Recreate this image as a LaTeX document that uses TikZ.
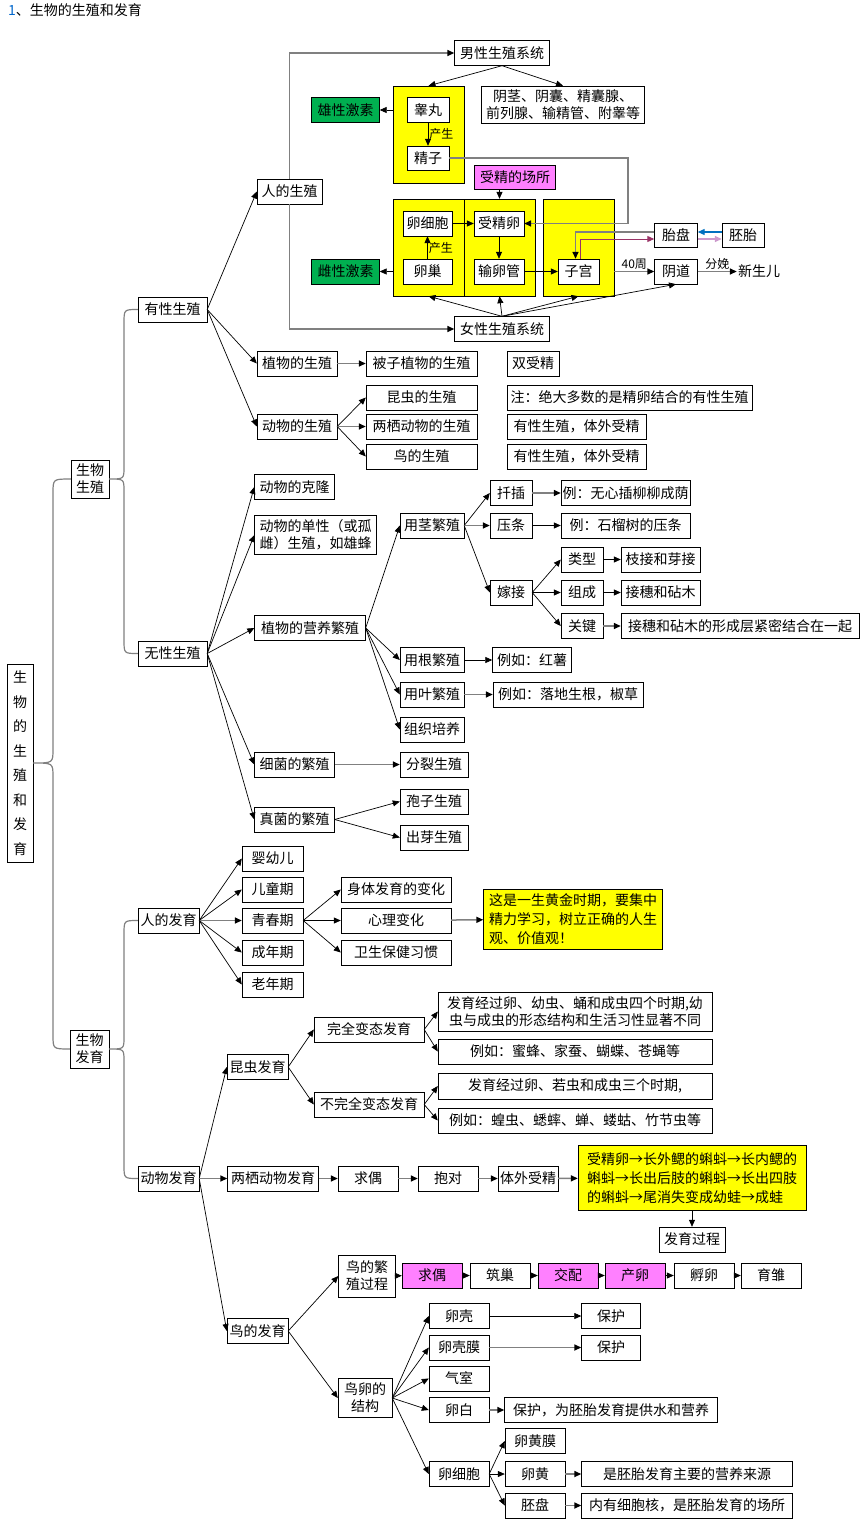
\documentclass[tikz,border=0pt]{standalone}
\usepackage{fontspec}
\setmainfont{Noto Sans CJK SC}
\usetikzlibrary{arrows.meta}
\definecolor{hiyellow}{RGB}{255,255,0}
\definecolor{hormone}{RGB}{0,176,80}
\definecolor{hipink}{RGB}{255,128,255}
\definecolor{linkpurple}{RGB}{153,51,102}
\definecolor{linkblue}{RGB}{0,112,192}
\definecolor{linkpink}{RGB}{204,153,204}
\definecolor{titleblue}{RGB}{0,102,204}

\begin{document}
\begin{tikzpicture}[x=1pt, y=-1pt, font=\fontsize{14}{17}\selectfont]
    \tikzstyle{box} = [draw, fill=white, align=center, inner sep=1pt, minimum height=25]
    \tikzstyle{ybox} = [box, fill=hiyellow]
    \tikzstyle{gbox} = [box, fill=hormone]
    \tikzstyle{pbox} = [box, fill=hipink]
    \tikzstyle{lab} = [font=\fontsize{12}{14}\selectfont, inner sep=1pt]
    \tikzstyle{arrow} = [->, >={Triangle[length=7pt,width=6pt]}, line width=0.7pt]
    \tikzstyle{garrow} = [->, >={Triangle[length=7pt,width=6pt,color=black]}, draw=gray, line width=1.5pt]
    \tikzstyle{parrow} = [arrow, draw=linkpurple, line width=1pt]
    \tikzstyle{barrow} = [arrow, draw=linkblue, line width=1.2pt]
    \tikzstyle{larrow} = [arrow, draw=linkpink, line width=1.5pt]
    \tikzstyle{brace} = [draw=gray, line width=1.2pt]
    \useasboundingbox (0,0) rectangle (865,1523);

    % Title
    \node [anchor=west, inner sep=0pt] (Title) at (8,10) {\textcolor{titleblue}{1}、生物的生殖和发育};

    % Root and the two big branches
    \node [box, minimum width=26, minimum height=198, font=\fontsize{14}{24.5}\selectfont] (Root) at (20,763) {生\\物\\的\\生\\殖\\和\\发\\育};
    \node [box, minimum width=38, minimum height=38] (BioRepro) at (90,479) {生物\\生殖};
    \node [box, minimum width=39, minimum height=38] (BioDev) at (89.5,1049) {生物\\发育};
    \draw [brace] (BioRepro.west) .. controls (53,479) .. (53,493) -- (53,749) .. controls (53,763) .. (Root.east)
                  .. controls (53,763) .. (53,777) -- (53,1035) .. controls (53,1049) .. (BioDev.west);

    \node [box, minimum width=69] (SexRepro) at (172.5,309.5) {有性生殖};
    \node [box, minimum width=69] (AsexRepro) at (172.5,653.5) {无性生殖};
    \draw [brace] (SexRepro.west) .. controls (124,309.5) .. (124,323) -- (124,467) .. controls (124,479) .. (BioRepro.east)
                  .. controls (124,479) .. (124,491) -- (124,640) .. controls (124,653.5) .. (AsexRepro.west);

    \node [box, minimum width=61] (HumanDev) at (168.5,920.5) {人的发育};
    \node [box, minimum width=61] (AnimalDev) at (168.5,1178.5) {动物发育};
    \draw [brace] (HumanDev.west) .. controls (124,920.5) .. (124,934) -- (124,1037) .. controls (124,1049) .. (BioDev.east)
                  .. controls (124,1049) .. (124,1061) -- (124,1165) .. controls (124,1178.5) .. (AnimalDev.west);

    % Human reproduction: yellow organ groups
    \node [ybox, minimum width=71, minimum height=97] (MaleGland) at (428.5,134.5) {};
    \node [ybox, minimum width=71, minimum height=97] (FemYA) at (428.5,247.5) {};
    \node [ybox, minimum width=71, minimum height=97] (FemYB) at (499.5,247.5) {};
    \node [ybox, minimum width=71, minimum height=97] (FemYR) at (578.5,247.5) {};

    \node [box, minimum width=65] (HumanRepro) at (289.5,191.5) {人的生殖};
    \node [box, minimum width=95] (MaleSys) at (502,53) {男性生殖系统};
    \node [box, minimum width=95] (FemaleSys) at (502,329) {女性生殖系统};
    \node [gbox, minimum width=68] (Androgen) at (345.5,110) {雄性激素};
    \node [gbox, minimum width=68] (Estrogen) at (345.5,271.5) {雌性激素};
    \node [box, minimum width=42] (Testis) at (428,110) {睾丸};
    \node [box, minimum width=42, minimum height=24] (Sperm) at (428,158) {精子};
    \node [box, minimum width=163, minimum height=37] (Organs) at (563,104.5) {阴茎、阴囊、精囊腺、\\前列腺、输精管、附睾等};
    \node [pbox, minimum width=81, minimum height=24] (FertSite) at (515,177) {受精的场所};
    \node [box, minimum width=49] (EggCell) at (427.5,223.5) {卵细胞};
    \node [box, minimum width=50] (Zygote) at (499,223.5) {受精卵};
    \node [box, minimum width=49] (Ovary) at (427.5,271.5) {卵巢};
    \node [box, minimum width=50] (Oviduct) at (499,271.5) {输卵管};
    \node [box, minimum width=41] (Uterus) at (578.5,271.5) {子宫};
    \node [box, minimum width=43, minimum height=24] (Placenta) at (676,235) {胎盘};
    \node [box, minimum width=42, minimum height=24] (Embryo) at (743,235) {胚胎};
    \node [box, minimum width=43] (Vagina) at (676,271.5) {阴道};
    \node [inner sep=1pt] (Newborn) at (759,271.5) {新生儿};

    \draw [garrow] (HumanRepro.north) |- (MaleSys.west);
    \draw [garrow] (HumanRepro.south) |- (FemaleSys.west);
    \draw [arrow] (MaleSys.south) -- (MaleGland.north);
    \draw [arrow] (MaleSys.south) -- (Organs.north);
    \draw [arrow] (Testis -| MaleGland.west) -- (Androgen.east);
    \draw [arrow] (Testis) -- node [lab, right] (MakeSperm) {产生} (Sperm);
    \coordinate (SpermBend) at (628,158);
    \draw [garrow] (Sperm.east) -- (SpermBend) |- (Zygote.east);
    \draw [arrow] (FertSite.south -| FemYB.north) -- (FemYB.north);
    \draw [arrow] (EggCell) -- (Zygote);
    \draw [arrow] (Ovary) -- node [lab, right] (MakeEgg) {产生} (EggCell);
    \draw [arrow] (Zygote) -- (Oviduct);
    \draw [arrow] (Oviduct) -- (Uterus);
    \draw [arrow] (Ovary -| FemYA.west) -- (Estrogen.east);
    \draw [garrow] ([yshift=3pt]Placenta.west) -| ([xshift=-3pt]Uterus.north);
    \draw [parrow] ([xshift=2pt]Uterus.north) |- ([yshift=-4pt]Placenta.west);
    \draw [barrow] ([yshift=3pt]Embryo.west) -- ([yshift=3pt]Placenta.east);
    \draw [larrow] ([yshift=-4pt]Placenta.east) -- ([yshift=-4pt]Embryo.west);
    \draw [garrow] (Vagina -| FemYR.east) -- node [lab, above] (Weeks) {40周} (Vagina.west);
    \draw [garrow] (Vagina.east) -- node [lab, above] (Delivery) {分娩} (Newborn.west);
    \draw [arrow] (FemaleSys.north) -- (FemYA.south);
    \draw [arrow] (FemaleSys.north) -- (FemYB.south);
    \draw [arrow] (FemaleSys.north) -- (FemYR.south);
    \draw [arrow] (FemaleSys.north) -- (Vagina.south);

    % Plants and animals, sexual
    \node [box, minimum width=80] (PlantRepro) at (297,363.5) {植物的生殖};
    \node [box, minimum width=111] (Angio) at (421.5,363.5) {被子植物的生殖};
    \node [box, minimum width=52] (DoubleFert) at (533,363.5) {双受精};
    \node [box, minimum width=80] (AnimalRepro) at (297,426.5) {动物的生殖};
    \node [box, minimum width=111] (InsectRepro) at (421.5,397.5) {昆虫的生殖};
    \node [box, minimum width=111] (AmphRepro) at (421.5,426.5) {两栖动物的生殖};
    \node [box, minimum width=111] (BirdRepro) at (421.5,456.5) {鸟的生殖};
    \node [box, minimum width=245] (SexNote) at (629.5,397.5) {注：绝大多数的是精卵结合的有性生殖};
    \node [box, minimum width=139] (AmphNote) at (576.5,426.5) {有性生殖，体外受精};
    \node [box, minimum width=139] (BirdNote) at (576.5,456.5) {有性生殖，体外受精};

    \draw [arrow] (SexRepro.east) -- (HumanRepro.west);
    \draw [arrow] (SexRepro.east) -- (PlantRepro.west);
    \draw [arrow] (SexRepro.east) -- (AnimalRepro.west);
    \draw [garrow] (PlantRepro) -- (Angio);
    \draw [arrow] (AnimalRepro.east) -- (InsectRepro.west);
    \draw [garrow] (AnimalRepro.east) -- (AmphRepro.west);
    \draw [arrow] (AnimalRepro.east) -- (BirdRepro.west);

    % Asexual reproduction
    \node [box, minimum width=80] (Clone) at (294.5,487) {动物的克隆};
    \node [box, minimum width=122, minimum height=39, align=left] (Parthen) at (315.5,535) {动物的单性（或孤\\雌）生殖，如雄蜂};
    \node [box, minimum width=111] (VegProp) at (310,628) {植物的营养繁殖};
    \node [box, minimum width=80] (Bacteria) at (294.5,764.5) {细菌的繁殖};
    \node [box, minimum width=80] (Fungi) at (294.5,819.5) {真菌的繁殖};
    \draw [arrow] (AsexRepro.east) -- (Clone.west);
    \draw [arrow] (AsexRepro.east) -- (Parthen.west);
    \draw [arrow] (AsexRepro.east) -- (VegProp.west);
    \draw [arrow] (AsexRepro.east) -- (Bacteria.west);
    \draw [arrow] (AsexRepro.east) -- (Fungi.west);

      % Vegetative propagation
      \node [box, minimum width=64] (StemProp) at (432,525.5) {用茎繁殖};
      \node [box, minimum width=64] (RootProp) at (432,660) {用根繁殖};
      \node [box, minimum width=64] (LeafProp) at (432,694.5) {用叶繁殖};
      \node [box, minimum width=64] (Tissue) at (432,729.5) {组织培养};
      \draw [arrow] (VegProp.east) -- (StemProp.west);
      \draw [arrow] (VegProp.east) -- (RootProp.west);
      \draw [arrow] (VegProp.east) -- (LeafProp.west);
      \draw [arrow] (VegProp.east) -- (Tissue.west);

      \node [box, minimum width=42] (Cutting) at (511,493) {扦插};
      \node [box, minimum width=42] (Layering) at (511,525.5) {压条};
      \node [box, minimum width=42] (Grafting) at (511,592.5) {嫁接};
      \node [box, minimum width=129] (CutEx) at (625.5,493) {例：无心插柳柳成荫};
      \node [box, minimum width=129] (LayEx) at (625.5,525.5) {例：石榴树的压条};
      \draw [arrow] (StemProp.east) -- (Cutting.west);
      \draw [garrow] (StemProp.east) -- (Layering.west);
      \draw [arrow] (StemProp.east) -- (Grafting.west);
      \draw [garrow] (Cutting) -- (CutEx);
      \draw [arrow] (Layering) -- (LayEx);

      \node [box, minimum width=42] (GraftType) at (582,559.5) {类型};
      \node [box, minimum width=42] (GraftPart) at (582,592.5) {组成};
      \node [box, minimum width=42] (GraftKey) at (582,626) {关键};
      \node [box, minimum width=79] (TypeEx) at (660.5,559.5) {枝接和芽接};
      \node [box, minimum width=79] (PartEx) at (660.5,592.5) {接穗和砧木};
      \node [box, minimum width=238] (KeyEx) at (740,626) {接穗和砧木的形成层紧密结合在一起};
      \draw [arrow] (Grafting.east) -- (GraftType.west);
      \draw [arrow] (Grafting.east) -- (GraftPart.west);
      \draw [arrow] (Grafting.east) -- (GraftKey.west);
      \draw [arrow] (GraftType) -- (TypeEx);
      \draw [arrow] (GraftPart) -- (PartEx);
      \draw [garrow] (GraftKey) -- (KeyEx);

      \node [box, minimum width=79] (RootEx) at (532,660) {例如：红薯};
      \node [box, minimum width=150] (LeafEx) at (568,694.5) {例如：落地生根，椒草};
      \draw [arrow] (RootProp) -- (RootEx);
      \draw [garrow] (LeafProp) -- (LeafEx);

      % Bacteria and fungi
      \node [box, minimum width=68] (Fission) at (434,764.5) {分裂生殖};
      \node [box, minimum width=68] (Spore) at (434,801.5) {孢子生殖};
      \node [box, minimum width=68] (Budding) at (434,837.5) {出芽生殖};
      \draw [garrow] (Bacteria) -- (Fission);
      \draw [arrow] (Fungi.east) -- (Spore.west);
      \draw [arrow] (Fungi.east) -- (Budding.west);

    % Human development
    \node [box, minimum width=61] (Infant) at (272.5,858.5) {婴幼儿};
    \node [box, minimum width=61] (Child) at (272.5,889.5) {儿童期};
    \node [box, minimum width=61] (Puberty) at (272.5,920.5) {青春期};
    \node [box, minimum width=61] (Adult) at (272.5,952.5) {成年期};
    \node [box, minimum width=61] (Elder) at (272.5,984.5) {老年期};
    \draw [arrow] (HumanDev.east) -- (Infant.west);
    \draw [arrow] (HumanDev.east) -- (Child.west);
    \draw [garrow] (HumanDev.east) -- (Puberty.west);
    \draw [arrow] (HumanDev.east) -- (Adult.west);
    \draw [arrow] (HumanDev.east) -- (Elder.west);

      \node [box, minimum width=110] (Body) at (396,889.5) {身体发育的变化};
      \node [box, minimum width=110] (Mind) at (396,920.5) {心理变化};
      \node [box, minimum width=110] (Hygiene) at (396,952.5) {卫生保健习惯};
      \node [ybox, minimum width=179, minimum height=60, align=left, font=\fontsize{14}{19}\selectfont] (GoldNote) at (573,919)
            {这是一生黄金时期，要集中\\精力学习，树立正确的人生\\观、价值观！};
      \draw [arrow] (Puberty.east) -- (Body.west);
      \draw [arrow] (Puberty.east) -- (Mind.west);
      \draw [arrow] (Puberty.east) -- (Hygiene.west);
      \draw [garrow] (Mind) -- (GoldNote);

    % Insect development
    \node [box, minimum width=61] (InsectDev) at (257.5,1067) {昆虫发育};
    \node [box, minimum width=110] (Complete) at (369,1029.5) {完全变态发育};
    \node [box, minimum width=110] (Incomplete) at (369,1104.5) {不完全变态发育};
    \node [box, minimum width=274, minimum height=39] (CompNote) at (575,1011.5) {发育经过卵、幼虫、蛹和成虫四个时期,幼\\虫与成虫的形态结构和生活习性显著不同};
    \node [box, minimum width=274] (CompEx) at (575,1051.5) {例如：蜜蜂、家蚕、蝴蝶、苍蝇等};
    \node [box, minimum width=274, minimum height=26] (IncNote) at (575,1086) {发育经过卵、若虫和成虫三个时期,};
    \node [box, minimum width=274] (IncEx) at (575,1120.5) {例如：蝗虫、蟋蟀、蝉、蝼蛄、竹节虫等};
    \draw [arrow] (AnimalDev.east) -- (InsectDev.west);
    \draw [arrow] (InsectDev.east) -- (Complete.west);
    \draw [arrow] (InsectDev.east) -- (Incomplete.west);
    \draw [arrow] (Complete.east) -- (CompNote.west);
    \draw [arrow] (Complete.east) -- (CompEx.west);
    \draw [arrow] (Incomplete.east) -- (IncNote.west);
    \draw [arrow] (Incomplete.east) -- (IncEx.west);

    % Amphibian development
    \node [box, minimum width=91] (AmphDev) at (273,1178.5) {两栖动物发育};
    \node [box, minimum width=60] (Courtship) at (368,1178.5) {求偶};
    \node [box, minimum width=60] (Amplexus) at (448,1178.5) {抱对};
    \node [box, minimum width=60] (ExtFert) at (528,1178.5) {体外受精};
    \node [ybox, minimum width=228, minimum height=65, align=left, font=\fontsize{14}{19}\selectfont] (Tadpole) at (692,1178)
          {受精卵→长外鳃的蝌蚪→长内鳃的\\蝌蚪→长出后肢的蝌蚪→长出四肢\\的蝌蚪→尾消失变成幼蛙→成蛙};
    \node [box, minimum width=66] (DevProc) at (692,1239.5) {发育过程};
    \draw [garrow] (AnimalDev) -- (AmphDev);
    \draw [garrow] (AmphDev) -- (Courtship);
    \draw [garrow] (Courtship) -- (Amplexus);
    \draw [garrow] (Amplexus) -- (ExtFert);
    \draw [garrow] (ExtFert) -- (Tadpole);
    \draw [arrow] (Tadpole) -- (DevProc);

    % Bird development
    \node [box, minimum width=61] (BirdDev) at (257.5,1331) {鸟的发育};
    \node [box, minimum width=57, minimum height=42] (BirdBreed) at (367,1276) {鸟的繁\\殖过程};
    \node [pbox, minimum width=60] (BirdCourt) at (432,1275.5) {求偶};
    \node [box, minimum width=60] (Nest) at (500,1275.5) {筑巢};
    \node [pbox, minimum width=60] (Mate) at (568,1275.5) {交配};
    \node [pbox, minimum width=60] (Lay) at (635,1275.5) {产卵};
    \node [box, minimum width=60] (Incub) at (704,1275.5) {孵卵};
    \node [box, minimum width=60] (Rear) at (771,1275.5) {育雏};
    \draw [arrow] (AnimalDev.east) -- (BirdDev.west);
    \draw [arrow] (BirdDev.east) -- (BirdBreed.west);
    \draw [arrow] (BirdBreed) -- (BirdCourt);
    \draw [arrow] (BirdCourt) -- (Nest);
    \draw [arrow] (Nest) -- (Mate);
    \draw [arrow] (Mate) -- (Lay);
    \draw [arrow] (Lay) -- (Incub);
    \draw [arrow] (Incub) -- (Rear);

      % Egg structure
      \node [box, minimum width=54, minimum height=39] (EggStruct) at (365,1398) {鸟卵的\\结构};
      \node [box, minimum width=60] (Shell) at (459,1316) {卵壳};
      \node [box, minimum width=60] (ShellMem) at (459,1347.5) {卵壳膜};
      \node [box, minimum width=60] (AirCell) at (459,1378.5) {气室};
      \node [box, minimum width=60] (Albumen) at (459,1410) {卵白};
      \node [box, minimum width=60] (Ovum) at (459,1474) {卵细胞};
      \draw [arrow] (BirdDev.east) -- (EggStruct.west);
      \draw [arrow] (EggStruct.east) -- (Shell.west);
      \draw [arrow] (EggStruct.east) -- (ShellMem.west);
      \draw [arrow] (EggStruct.east) -- (AirCell.west);
      \draw [arrow] (EggStruct.east) -- (Albumen.west);
      \draw [arrow] (EggStruct.east) -- (Ovum.west);

      \node [box, minimum width=59] (ShellUse) at (611,1316) {保护};
      \node [box, minimum width=59] (MemUse) at (611,1347.5) {保护};
      \node [box, minimum width=213] (AlbUse) at (611,1410) {保护，为胚胎发育提供水和营养};
      \draw [arrow] (Shell) -- (ShellUse);
      \draw [garrow] (ShellMem) -- (MemUse);
      \draw [garrow] (Albumen) -- (AlbUse);

      \node [box, minimum width=60] (VitMem) at (535,1441) {卵黄膜};
      \node [box, minimum width=60] (Yolk) at (535,1474) {卵黄};
      \node [box, minimum width=60] (Germ) at (535,1505.5) {胚盘};
      \node [box, minimum width=211] (YolkUse) at (687,1474) {是胚胎发育主要的营养来源};
      \node [box, minimum width=211] (GermUse) at (687,1505.5) {内有细胞核，是胚胎发育的场所};
      \draw [arrow] (Ovum.east) -- (VitMem.west);
      \draw [arrow] (Ovum.east) -- (Yolk.west);
      \draw [arrow] (Ovum.east) -- (Germ.west);
      \draw [garrow] (Yolk) -- (YolkUse);
      \draw [garrow] (Germ) -- (GermUse);
\end{tikzpicture}
\end{document}
